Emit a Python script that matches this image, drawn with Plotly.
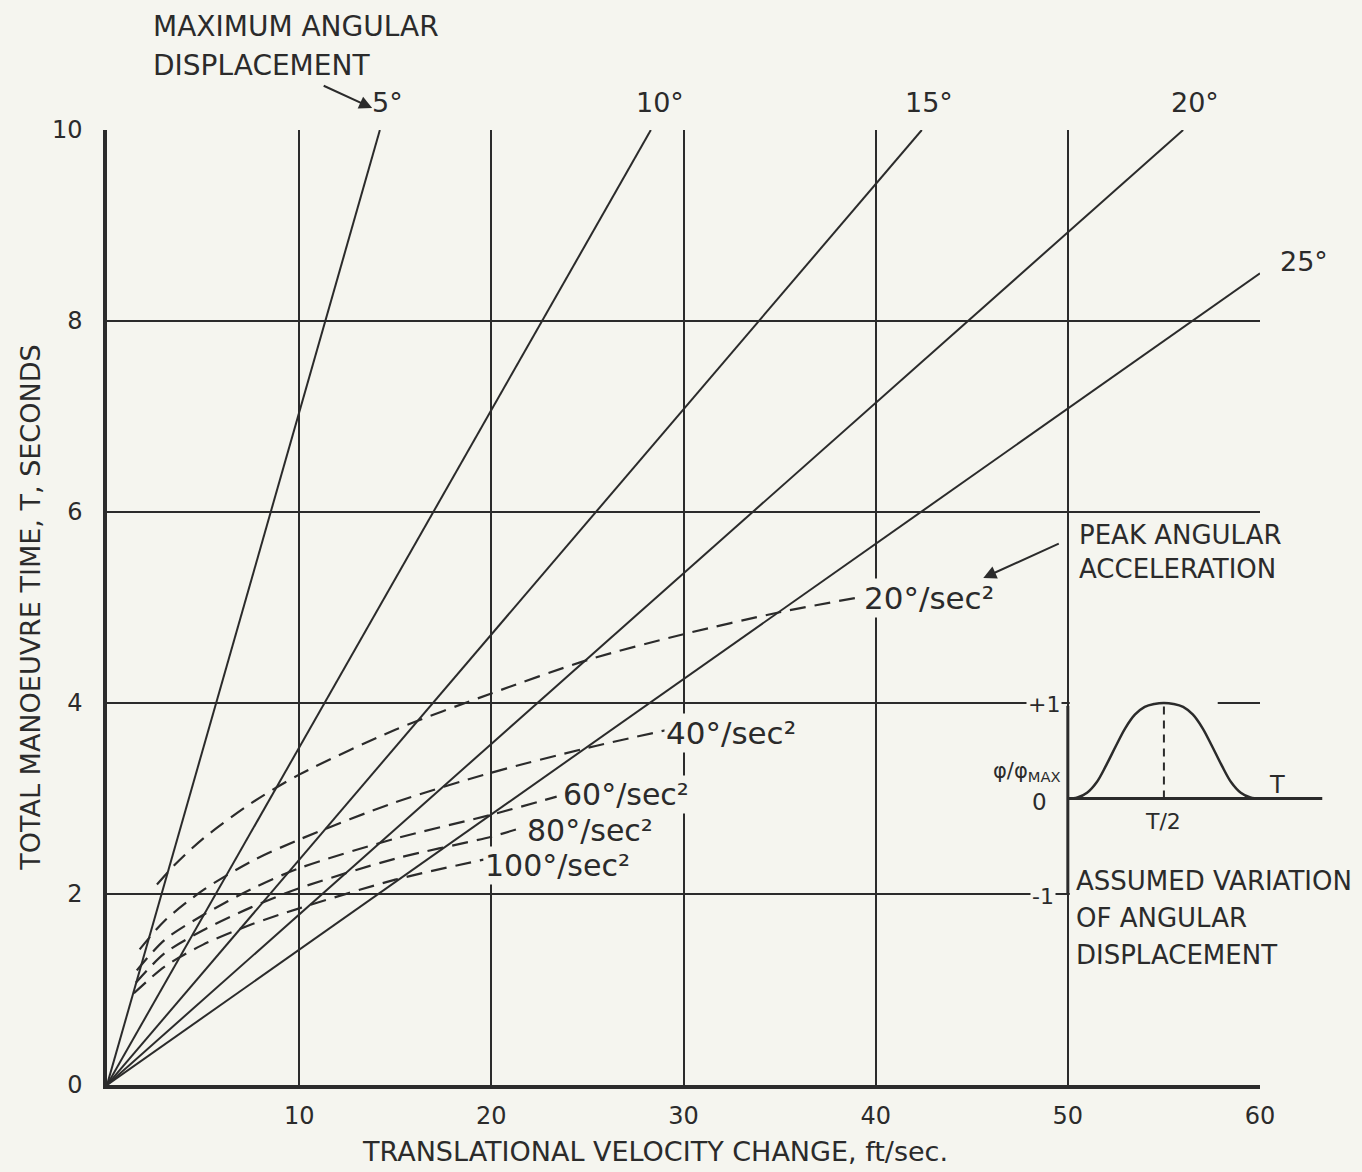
import plotly.graph_objects as go

# --- data ---
# straight lines of constant maximum angular displacement (from origin to end point)
disp_labels = ['5°', '10°', '15°', '20°', '25°']
disp_end_v = [14.2, 28.3, 42.4, 56.0, 60.0]
disp_end_t = [10.0, 10.0, 10.0, 10.0, 8.5]

# dashed curves of constant peak angular acceleration
acc_labels = ['20°/sec²', '40°/sec²', '60°/sec²', '80°/sec²', '100°/sec²']
acc_20_v = [2.6, 3.5, 5, 7.5, 10, 15, 20, 25, 30, 35, 39.5]
acc_20_t = [2.1, 2.3, 2.58, 2.95, 3.25, 3.72, 4.1, 4.45, 4.72, 4.95, 5.12]
acc_40_v = [1.7, 3, 5, 7.5, 10, 15, 20, 25, 29.2]
acc_40_t = [1.42, 1.72, 2.04, 2.34, 2.57, 2.96, 3.27, 3.53, 3.72]
acc_60_v = [1.55, 3, 5, 7.5, 10, 15, 20, 23.4]
acc_60_t = [1.2, 1.52, 1.78, 2.05, 2.27, 2.58, 2.83, 3.02]
acc_80_v = [1.5, 3, 5, 7.5, 10, 15, 20, 21.5]
acc_80_t = [1.07, 1.38, 1.62, 1.86, 2.06, 2.37, 2.6, 2.69]
acc_100_v = [1.4, 3, 5, 7.5, 10, 15, 19.6]
acc_100_t = [0.96, 1.24, 1.47, 1.68, 1.85, 2.15, 2.36]

# inset: assumed variation of angular displacement (fraction of T, phi/phi_max)
inset_t = [0, .05, .1, .15, .2, .25, .3, .35, .4, .45, .5,
           .55, .6, .65, .7, .75, .8, .85, .9, .95, 1]
inset_v = [0, .01, .06, .17, .35, .55, .74, .88, .96, .99, 1,
           .99, .96, .88, .74, .55, .35, .17, .06, .01, 0]

x_ticks = [10, 20, 30, 40, 50, 60]
y_ticks = [0, 2, 4, 6, 8, 10]

INK = '#2b2b2b'
BG = '#f5f5ef'
NOBG = 'rgba(0,0,0,0)'
FONT = 'DejaVu Sans'
X_MAX, Y_MAX = 60, 10

fig = go.Figure()

for lab, v, t in zip(disp_labels, disp_end_v, disp_end_t):
    fig.add_trace(go.Scatter(x=[0, v], y=[0, t], mode='lines', name=lab,
                             line=dict(color=INK, width=2)))

acc_series = [(acc_20_v, acc_20_t), (acc_40_v, acc_40_t), (acc_60_v, acc_60_t),
              (acc_80_v, acc_80_t), (acc_100_v, acc_100_t)]
for lab, (v, t) in zip(acc_labels, acc_series):
    fig.add_trace(go.Scatter(x=v, y=t, mode='lines', name=lab,
                             line=dict(color=INK, width=2.2, dash='16px,9px',
                                       shape='spline', smoothing=0.8)))

# inset curve, drawn in main-axis units: T spans x 50..60, phi/phi_max 0 at y=3
fig.add_trace(go.Scatter(x=[50 + 10 * t for t in inset_t], y=[3 + v for v in inset_v],
                         mode='lines', line=dict(color=INK, width=2.5, shape='spline')))


def note(text, x, y, size=24, xanchor='center', bg=BG, **kw):
    # x, y in data units; placed via paper refs so labels outside the axes still show
    fig.add_annotation(text=text, x=x / X_MAX, y=y / Y_MAX, xref='paper', yref='paper',
                       showarrow=False, xanchor=xanchor, yanchor='middle', bgcolor=bg,
                       align='left' if xanchor == 'left' else 'center',
                       borderpad=1, font=dict(family=FONT, size=size, color=INK), **kw)


# displacement labels
note('5°', 14.6, 10.29, size=27, bg=NOBG)
note('10°', 28.8, 10.29, size=27, bg=NOBG)
note('15°', 42.8, 10.29, size=27, bg=NOBG)
note('20°', 56.6, 10.29, size=27, bg=NOBG)
note('25°', 62.3, 8.62, size=27, bg=NOBG)
note('MAXIMUM ANGULAR', 2.3, 11.08, size=28, xanchor='left', bg=NOBG)
note('DISPLACEMENT', 2.3, 10.68, size=28, xanchor='left', bg=NOBG)
fig.add_annotation(x=13.8 / X_MAX, y=10.23 / Y_MAX, xref='paper', yref='paper',
                   ax=-50, ay=-23, text='', showarrow=True,
                   arrowhead=2, arrowsize=1.3, arrowwidth=2, arrowcolor=INK)

# acceleration labels
note('20°/sec²', 39.3, 5.1, size=31, xanchor='left')
note('40°/sec²', 29.0, 3.69, size=31, xanchor='left')
note('60°/sec²', 23.6, 3.04, size=30, xanchor='left')
note('80°/sec²', 21.75, 2.67, size=30, xanchor='left')
note('100°/sec²', 19.55, 2.30, size=30, xanchor='left')
note('PEAK ANGULAR<br>ACCELERATION', 50.5, 5.58, size=26, xanchor='left')
fig.add_annotation(x=45.6, y=5.31, ax=77, ay=-35, text='', showarrow=True,
                   arrowhead=2, arrowsize=1.3, arrowwidth=2, arrowcolor=INK)

# inset labels
note('+1', 48.75, 3.98, size=22)
note('0', 48.5, 2.96, size=23)
note('-1', 48.7, 1.97, size=22)
note('φ/φ<sub>MAX</sub>', 47.9, 3.28, size=21, bg=NOBG)
note('T', 60.9, 3.14, size=24, bg=NOBG)
note('T/2', 54.95, 2.76, size=22, bg=NOBG)
note('ASSUMED VARIATION', 50.3, 2.14, size=26, xanchor='left')
note('OF ANGULAR', 50.3, 1.75, size=26, xanchor='left')
note('DISPLACEMENT', 50.3, 1.36, size=26, xanchor='left')

# axis titles
note('TOTAL MANOEUVRE TIME, T, SECONDS', -4.0, 5.0, size=27, bg=NOBG, textangle=-90)
note('TRANSLATIONAL VELOCITY CHANGE, ft/sec.', 28.5, -0.70, size=27, bg=NOBG)

# inset frame: gaps in the grid, thick axes, dashed T/2 marker
fig.add_shape(type='rect', x0=50.1, x1=57.8, y0=3.93, y1=4.07, layer='between',
              fillcolor=BG, line=dict(width=0))
fig.add_shape(type='rect', x0=50.1, x1=59.6, y0=1.93, y1=2.07, layer='between',
              fillcolor=BG, line=dict(width=0))
fig.add_shape(type='line', x0=50, x1=50, y0=2.0, y1=3.97, line=dict(color=INK, width=3))
fig.add_shape(type='line', xref='paper', yref='paper', x0=50 / 60, x1=1.054, y0=0.3, y1=0.3,
              line=dict(color=INK, width=3))
fig.add_shape(type='line', x0=55, x1=55, y0=3, y1=4, line=dict(color=INK, width=2, dash='8px,6px'))

fig.update_xaxes(range=[0, X_MAX], tickvals=x_ticks, showgrid=True, gridcolor=INK, gridwidth=1.5,
                 showline=True, linecolor=INK, linewidth=3.5, zeroline=False, ticks='',
                 ticklabelstandoff=6, tickfont=dict(family=FONT, size=24, color=INK))
fig.update_yaxes(range=[0, Y_MAX], tickvals=y_ticks, showgrid=True, gridcolor=INK, gridwidth=1.5,
                 showline=True, linecolor=INK, linewidth=3.5, zeroline=False, ticks='',
                 ticklabelstandoff=16, tickfont=dict(family=FONT, size=24, color=INK))

fig.update_layout(
    width=1362, height=1172,
    margin=dict(l=107, r=102, t=130, b=87),
    paper_bgcolor=BG, plot_bgcolor=BG,
    showlegend=False,
    font=dict(family=FONT, color=INK),
)

# drop the page's default body margin so the figure sits at the window's corner
fig.write_html("out.html", config={'displayModeBar': False},
               post_script="document.body.style.margin='0';")
